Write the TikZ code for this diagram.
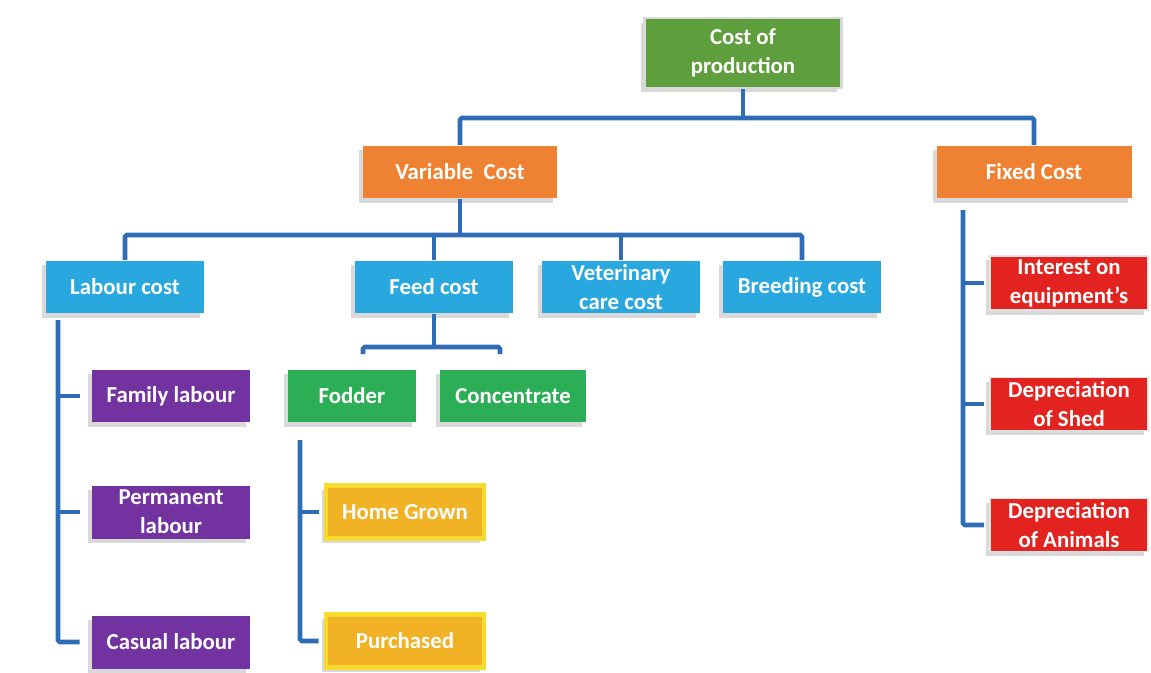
\documentclass[tikz,border=0pt]{standalone}
\usepackage{fontspec}
\setmainfont{Carlito}
\usetikzlibrary{shadows,calc}

\definecolor{topgreen}{HTML}{5E9E3C}
\definecolor{varorange}{HTML}{EE8132}
\definecolor{costblue}{HTML}{29A8DF}
\definecolor{labpurple}{HTML}{7232A0}
\definecolor{feedgreen}{HTML}{2BAE55}
\definecolor{growyellow}{HTML}{F6DC2C}
\definecolor{groworange}{HTML}{F2B226}
\definecolor{fixedred}{HTML}{E2231F}
\definecolor{linkblue}{HTML}{2F6CB8}

\tikzset{
    box/.style={text=white, align=center, font=\fontsize{13}{16.5}\selectfont\bfseries,
        minimum width=3.16cm, minimum height=1.06cm, inner sep=2pt,
        drop shadow={shadow xshift=-0.8mm, shadow yshift=-0.9mm, opacity=0.25, fill=black!60}},
    topbox/.style={box, fill=topgreen, draw=black!15, line width=1.2pt,
        minimum width=3.94cm, minimum height=1.4cm},
    mainbox/.style={box, fill=varorange, minimum width=3.9cm},
    subbox/.style={box, fill=costblue},
    labourbox/.style={box, fill=labpurple},
    feedbox/.style={box, fill=feedgreen},
    sourcebox/.style={box, fill=groworange, draw=growyellow, line width=2.8pt},
    fixedbox/.style={box, fill=fixedred, draw=black!10, line width=1pt},
    link/.style={draw=linkblue, line width=2.6pt, rounded corners=1pt}
}

\begin{document}
\begin{tikzpicture}[x=0.02cm, y=-0.02cm]
    \useasboundingbox (0,0) rectangle (1151,672);

    % top levels
    \node[topbox] (cost) at (743,53) {Cost of\\production};
    \node[mainbox] (variable) at (460,172) {Variable\ \ Cost};
    \node[mainbox] (fixed) at (1034,172) {Fixed Cost};

    % variable cost items
    \node[subbox] (labour) at (125,287) {Labour cost};
    \node[subbox] (feed) at (434,287) {Feed cost};
    \node[subbox] (vet) at (621,287) {Veterinary\\care cost};
    \node[subbox] (breeding) at (802,287) {Breeding cost};

    \node[labourbox] (family) at (171,396) {Family labour};
    \node[labourbox] (permanent) at (171,512) {Permanent\\labour};
    \node[labourbox] (casual) at (171,642) {Casual labour};

    \node[feedbox, minimum width=2.56cm] (fodder) at (352,396) {Fodder};
    \node[feedbox, minimum width=2.94cm] (concentrate) at (513,396) {Concentrate};
    \node[sourcebox] (homegrown) at (405,512) {Home Grown};
    \node[sourcebox] (purchased) at (405,641) {Purchased};

    % fixed cost items
    \node[fixedbox] (interest) at (1069,283) {Interest on\\equipment's};
    \node[fixedbox] (shed) at (1069,404) {Depreciation\\of Shed};
    \node[fixedbox] (animals) at (1069,525) {Depreciation\\of Animals};

    % connectors
    \coordinate (topjoin) at (743,118);
    \draw[link] (cost.south) -- (topjoin);
    \draw[link] (variable.north) |- (topjoin) -| (fixed.north);

    \coordinate (varjoin) at (460,235);
    \draw[link] (variable.south) -- (varjoin);
    \draw[link] (labour.north) |- (varjoin) -| (breeding.north);
    \draw[link] (feed.north) -- (feed.north |- varjoin);
    \draw[link] (vet.north) -- (vet.north |- varjoin);

    \coordinate (feedjoin) at (434,347);
    \coordinate (fodderend) at (363,354);
    \coordinate (concentrateend) at (500,354);
    \draw[link] (feed.south) -- (feedjoin);
    \draw[link] (fodderend) |- (feedjoin) -| (concentrateend);

    \coordinate (labourtrunk) at (58,320);
    \draw[link] (labourtrunk) |- ([xshift=-2.4mm]casual.west);
    \draw[link] ([xshift=-2.4mm]family.west) -- (family.west -| labourtrunk);
    \draw[link] ([xshift=-2.4mm]permanent.west) -- (permanent.west -| labourtrunk);

    \coordinate (foddertrunk) at (300,440);
    \draw[link] (foddertrunk) |- ([xshift=-1mm]purchased.west);
    \draw[link] ([xshift=-1mm]homegrown.west) -- (homegrown.west -| foddertrunk);

    \coordinate (fixedtrunk) at (963,210);
    \draw[link] (fixedtrunk) |- ([xshift=-1mm]animals.west);
    \draw[link] ([xshift=-1mm]interest.west) -- (interest.west -| fixedtrunk);
    \draw[link] ([xshift=-1mm]shed.west) -- (shed.west -| fixedtrunk);
\end{tikzpicture}
\end{document}
